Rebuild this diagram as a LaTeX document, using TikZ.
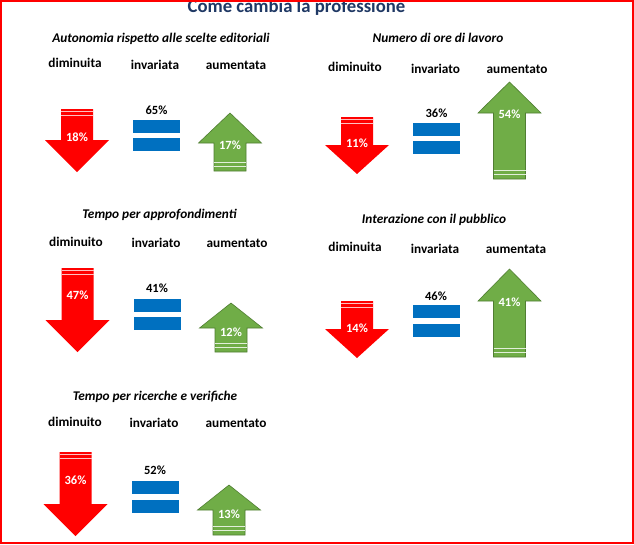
\documentclass[tikz,border=0pt]{standalone}
\usepackage{fontspec}
\setmainfont{Carlito}
\definecolor{redA}{HTML}{FF0000}
\definecolor{redS}{HTML}{FFC0C0}
\definecolor{greenA}{HTML}{70AD47}
\definecolor{greenB}{HTML}{507E32}
\definecolor{greenS}{HTML}{E2EFDA}
\definecolor{blueA}{HTML}{0070C0}
\definecolor{titleC}{HTML}{1F3864}
\newcommand\dnarr[4]{% cx, top, headbase, tip
  \fill[redA] (#1-16,#2) -- (#1+16,#2) -- (#1+16,#3) -- (#1+32,#3) -- (#1,#4) -- (#1-32,#3) -- (#1-16,#3) -- cycle;
  \draw[redS, line width=0.9pt] (#1-16,#2+2.7) -- (#1+16,#2+2.7);
  \draw[redS, line width=0.9pt] (#1-16,#2+6.3) -- (#1+16,#2+6.3);
}
\newcommand\uparr[4]{% cx, tip, headbase, bottom
  \filldraw[fill=greenA, draw=greenB, line width=0.6pt] (#1,#2) -- (#1+31.5,#3) -- (#1+16,#3) -- (#1+16,#4) -- (#1-16,#4) -- (#1-16,#3) -- (#1-31.5,#3) -- cycle;
  \draw[greenS, line width=0.9pt] (#1-16,#4-9) -- (#1+16,#4-9);
  \draw[greenS, line width=0.9pt] (#1-16,#4-4.5) -- (#1+16,#4-4.5);
}
\newcommand\eqbars[3]{% xl, top of upper bar, top of lower bar
  \fill[blueA] (#1,#2) rectangle (#1+47,#2+13);
  \fill[blueA] (#1,#3) rectangle (#1+47,#3+13);
}
\tikzset{
  cat/.style={font=\fontsize{13.3}{16}\selectfont\bfseries, anchor=base, inner sep=0pt},
  sub/.style={font=\fontsize{13.3}{16}\selectfont\bfseries\itshape, anchor=base, inner sep=0pt},
  pctw/.style={font=\fontsize{12.5}{15}\selectfont\bfseries, text=white, anchor=base, inner sep=0pt},
  pctk/.style={font=\fontsize{12.5}{15}\selectfont\bfseries, text=black, anchor=base, inner sep=0pt},
  ttl/.style={font=\fontsize{18.7}{22}\selectfont\bfseries, text=titleC, anchor=base, inner sep=0pt}
}
\begin{document}
\begin{tikzpicture}[x=1pt,y=-1pt]
\useasboundingbox (0,0) rectangle (634,544);
\fill[white] (0,0) rectangle (634,544);

\node[ttl] (title) at (296.5,12.5) {Come cambia la professione};

% Panel 1
\node[sub] (s1) at (161,42) {Autonomia rispetto alle scelte editoriali};
\node[cat] (d1) at (75,67) {diminuita};
\node[cat] (i1) at (155,69) {invariata};
\node[cat] (a1) at (236,69) {aumentata};
\dnarr{77}{109}{140}{172}
\eqbars{133}{120}{138}
\uparr{230}{113}{143}{171}
\node[pctw] (pd1) at (77,141.5) {18\%};
\node[pctk] (pi1) at (156.5,114.5) {65\%};
\node[pctw] (pa1) at (230,149.5) {17\%};

% Panel 2
\node[sub] (s2) at (438,42) {Numero di ore di lavoro};
\node[cat] (d2) at (355,71) {diminuito};
\node[cat] (i2) at (435.5,73) {invariato};
\node[cat] (a2) at (517,73) {aumentato};
\dnarr{357}{117}{145}{174}
\eqbars{413}{123}{141}
\uparr{509.5}{82}{113}{179}
\node[pctw] (pd2) at (357,147.5) {11\%};
\node[pctk] (pi2) at (436.5,117.5) {36\%};
\node[pctw] (pa2) at (509.5,118.5) {54\%};

% Panel 3
\node[sub] (s3) at (159.5,218) {Tempo per approfondimenti};
\node[cat] (d3) at (76,246) {diminuito};
\node[cat] (i3) at (156,247) {invariato};
\node[cat] (a3) at (237,247) {aumentato};
\dnarr{77.5}{268}{320}{352}
\eqbars{134}{299}{317}
\uparr{231}{303}{328}{352}
\node[pctw] (pd3) at (77.5,299.5) {47\%};
\node[pctk] (pi3) at (157,292.5) {41\%};
\node[pctw] (pa3) at (231,336.5) {12\%};

% Panel 4
\node[sub] (s4) at (434,223) {Interazione con il pubblico};
\node[cat] (d4) at (355,251) {diminuita};
\node[cat] (i4) at (435,253) {invariata};
\node[cat] (a4) at (516,253) {aumentata};
\dnarr{357}{301}{329}{358}
\eqbars{413}{305}{324}
\uparr{509.5}{269}{301}{357}
\node[pctw] (pd4) at (357,332.5) {14\%};
\node[pctk] (pi4) at (436,300.5) {46\%};
\node[pctw] (pa4) at (509.5,306.5) {41\%};

% Panel 5
\node[sub] (s5) at (155,400) {Tempo per ricerche e verifiche};
\node[cat] (d5) at (75,426) {diminuito};
\node[cat] (i5) at (154,427) {invariato};
\node[cat] (a5) at (236,427) {aumentato};
\dnarr{75.5}{452}{504}{536}
\eqbars{132}{481}{500}
\uparr{229}{485}{510}{535}
\node[pctw] (pd5) at (75.5,484.5) {36\%};
\node[pctk] (pi5) at (155,474.5) {52\%};
\node[pctw] (pa5) at (229,518.5) {13\%};

\draw[redA, line width=2pt] (1,1) rectangle (632.5,542.5);
\end{tikzpicture}
\end{document}
